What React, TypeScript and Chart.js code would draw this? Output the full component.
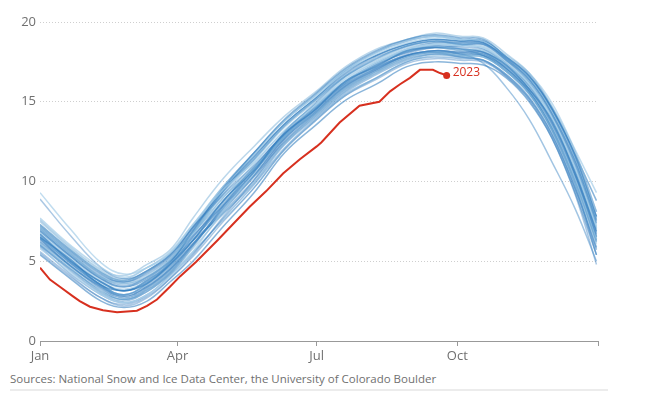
import React, { useEffect, useRef } from "react";
import { Chart, registerables } from "chart.js";

Chart.register(...registerables);

// Day of year (0 = 1 Jan) at which each past-season value is read
const SAMPLE_DAYS = [0, 20, 40, 55, 70, 85, 100, 120, 140, 160, 180, 200, 220, 240, 258, 275, 290, 305, 320, 335, 350, 364];

// Past seasons, sea ice extent (million sq km)
const past01 = [6.5, 5.1, 3.5, 3.15, 3.6, 4.8, 6.3, 8.8, 10.7, 13.0, 14.5, 16.3, 17.2, 18.2, 18.4, 18.3, 18.1, 17.3, 15.8, 13.8, 10.5, 6.9];
const past02 = [7.1, 5.5, 4.0, 3.6, 4.1, 5.1, 6.8, 9.0, 10.9, 12.8, 14.3, 15.9, 16.9, 17.8, 18.1, 17.9, 17.8, 16.9, 15.5, 13.3, 10.0, 6.3];
const past03 = [6.0, 4.5, 3.2, 2.6, 3.2, 4.3, 6.0, 8.4, 10.6, 13.1, 14.9, 16.6, 17.7, 18.5, 18.8, 18.6, 18.6, 17.6, 16.4, 14.2, 11.1, 7.4];
const past04 = [7.7, 6.0, 4.6, 4.0, 4.6, 5.6, 7.3, 9.5, 11.2, 13.2, 14.8, 16.4, 17.5, 18.3, 18.6, 18.5, 18.4, 17.4, 16.1, 13.9, 10.9, 7.1];
const past05 = [5.5, 4.0, 2.7, 2.2, 2.7, 3.9, 5.4, 7.8, 10.1, 12.6, 14.3, 16.0, 17.0, 17.9, 18.2, 18.1, 18.1, 17.2, 15.8, 13.6, 10.4, 6.6];
const past06 = [6.7, 5.0, 3.7, 3.15, 3.8, 4.9, 6.9, 9.6, 11.8, 13.9, 15.5, 17.1, 18.2, 18.9, 19.2, 19.0, 18.9, 17.8, 16.6, 14.5, 11.6, 7.8];
const past07 = [6.1, 4.6, 3.1, 2.6, 3.2, 4.3, 5.8, 8.0, 10.0, 12.4, 14.1, 15.7, 16.8, 17.7, 18.0, 17.9, 17.8, 16.9, 15.5, 13.2, 9.9, 6.1];
const past08 = [7.1, 5.5, 4.1, 3.7, 4.2, 5.2, 7.0, 9.4, 11.4, 13.5, 15.1, 16.7, 17.8, 18.5, 18.8, 18.7, 18.6, 17.6, 16.3, 14.2, 11.2, 7.5];
const past09 = [9.3, 7.0, 4.9, 4.2, 4.6, 5.5, 7.3, 9.7, 11.7, 13.8, 15.3, 16.9, 18.0, 18.7, 19.0, 18.9, 18.8, 17.8, 16.5, 14.4, 11.5, 7.7];
const past10 = [8.9, 6.6, 4.6, 3.9, 4.4, 5.4, 7.1, 9.2, 11.0, 13.0, 14.6, 16.2, 17.3, 18.1, 18.5, 18.4, 18.3, 17.4, 16.0, 13.7, 10.6, 6.8];
const past11 = [5.4, 3.9, 2.5, 2.1, 2.5, 3.7, 5.0, 7.2, 9.3, 11.8, 13.5, 15.1, 16.1, 17.2, 17.5, 17.4, 17.3, 16.5, 15.0, 12.7, 9.3, 5.4];
const past12 = [7.6, 5.9, 4.5, 4.1, 4.8, 5.7, 7.7, 10.2, 12.2, 14.1, 15.6, 17.2, 18.3, 18.9, 19.3, 19.1, 19.0, 18.0, 16.8, 14.7, 11.9, 8.1];
const past13 = [6.4, 4.9, 3.5, 2.9, 3.6, 4.7, 6.3, 8.6, 10.6, 12.9, 14.5, 16.1, 17.1, 17.9, 18.2, 18.0, 17.4, 15.9, 13.9, 11.2, 8.3, 5.0];
const past14 = [5.8, 4.3, 2.9, 2.4, 2.9, 4.0, 5.6, 8.2, 10.5, 13.0, 14.7, 16.3, 17.4, 18.2, 18.5, 18.3, 18.2, 17.2, 15.8, 13.5, 10.2, 6.4];
const past15 = [6.9, 5.3, 3.9, 3.4, 4.0, 5.0, 6.6, 8.5, 10.4, 12.7, 14.4, 16.0, 17.1, 18.0, 18.4, 18.5, 18.6, 17.8, 16.7, 14.6, 11.7, 8.1];
const past16 = [6.4, 4.7, 3.4, 2.8, 3.4, 4.5, 6.1, 8.3, 10.4, 12.7, 14.3, 15.9, 17.0, 17.9, 18.2, 18.1, 18.0, 17.1, 15.7, 13.4, 10.3, 6.5];
const past17 = [7.3, 5.7, 4.3, 3.8, 4.4, 5.4, 6.8, 8.8, 10.8, 12.9, 14.6, 16.2, 17.3, 18.1, 18.4, 18.2, 18.2, 17.3, 16.0, 13.8, 10.7, 7.0];
const past18 = [5.9, 4.2, 2.9, 2.4, 2.9, 4.1, 5.5, 7.7, 9.8, 12.1, 13.9, 15.5, 16.5, 17.5, 17.8, 17.7, 17.6, 16.7, 15.3, 13.0, 9.6, 5.9];
const past19 = [6.9, 5.2, 3.8, 3.4, 4.0, 5.0, 6.7, 9.0, 11.1, 13.2, 14.8, 16.5, 17.5, 18.3, 18.6, 18.5, 18.4, 17.4, 16.1, 14.0, 10.9, 7.1];
const past20 = [6.6, 5.0, 3.7, 3.15, 3.7, 4.8, 6.5, 8.8, 10.9, 13.0, 14.7, 16.3, 17.4, 18.3, 18.7, 18.7, 18.7, 17.7, 16.5, 14.4, 11.4, 7.7];
const past21 = [6.2, 4.7, 3.3, 2.7, 3.3, 4.4, 6.0, 8.2, 10.3, 12.5, 14.2, 15.8, 16.9, 17.8, 18.1, 18.0, 17.9, 17.0, 15.6, 13.3, 10.1, 6.3];
const past22 = [7.0, 5.4, 4.0, 3.6, 4.0, 5.1, 6.9, 9.2, 11.3, 13.4, 15.0, 16.6, 17.6, 18.4, 18.7, 18.6, 18.5, 17.5, 16.2, 14.1, 11.0, 7.3];
const past23 = [6.5, 4.9, 3.5, 2.9, 3.5, 4.6, 6.3, 8.5, 10.6, 12.8, 14.5, 16.1, 17.2, 17.9, 18.1, 17.8, 17.6, 16.7, 15.2, 12.9, 9.6, 5.8];
const past24 = [6.8, 5.1, 3.7, 3.25, 3.8, 4.9, 6.7, 9.3, 11.4, 13.5, 15.1, 16.6, 17.7, 18.5, 18.8, 18.6, 18.3, 17.3, 15.9, 13.7, 10.6, 6.8];
const past25 = [5.6, 4.1, 2.7, 2.3, 2.8, 3.9, 5.3, 7.5, 9.6, 12.0, 13.8, 15.4, 16.4, 17.4, 17.7, 17.6, 17.5, 16.6, 15.2, 12.9, 9.5, 5.7];
const past26 = [7.2, 5.6, 4.2, 3.7, 4.3, 5.3, 7.1, 9.5, 11.6, 13.6, 15.2, 16.8, 17.9, 18.6, 18.9, 18.8, 18.7, 17.7, 16.4, 14.3, 11.3, 7.6];
const past27 = [7.5, 5.8, 4.4, 3.9, 4.6, 5.5, 7.2, 9.1, 10.7, 12.8, 14.4, 16.0, 17.1, 17.9, 18.2, 18.0, 18.0, 17.1, 15.7, 13.5, 10.3, 6.5];
const past28 = [6.0, 4.4, 3.0, 2.5, 3.1, 4.2, 5.9, 8.5, 10.8, 13.0, 14.7, 16.3, 17.4, 18.2, 18.5, 18.3, 17.9, 16.9, 15.5, 13.2, 9.9, 6.2];
const past29 = [6.6, 5.0, 3.6, 3.15, 3.7, 4.8, 6.4, 8.7, 10.8, 12.9, 14.6, 16.2, 17.3, 18.2, 18.6, 18.6, 18.7, 17.9, 16.8, 14.9, 12.0, 9.3];
const past30 = [6.3, 4.8, 3.4, 2.8, 3.4, 4.5, 6.1, 8.1, 10.1, 12.4, 14.1, 15.7, 16.8, 17.7, 18.0, 17.8, 17.6, 16.6, 15.1, 12.7, 9.2, 4.8];
const past31 = [6.9, 5.3, 3.9, 3.4, 3.9, 5.0, 6.8, 9.4, 11.5, 13.6, 15.2, 16.9, 17.9, 18.6, 18.9, 18.8, 18.8, 17.8, 16.6, 14.6, 11.7, 8.8];
const past32 = [6.1, 4.5, 3.1, 2.6, 3.1, 4.2, 5.6, 7.6, 9.6, 12.0, 13.8, 15.4, 16.5, 17.5, 17.9, 17.8, 17.8, 16.9, 15.5, 13.3, 10.1, 6.4];
const past33 = [7.0, 5.4, 4.0, 3.5, 4.0, 5.0, 6.3, 8.0, 9.9, 12.3, 14.0, 15.6, 16.7, 17.6, 18.0, 17.9, 17.9, 17.1, 15.8, 13.6, 10.5, 6.7];
const past34 = [6.5, 4.9, 3.5, 2.9, 3.6, 4.7, 6.6, 9.4, 11.7, 13.8, 15.4, 17.0, 18.1, 18.8, 19.1, 18.9, 18.7, 17.6, 16.2, 14.0, 10.8, 7.2];
const past35 = [6.7, 5.1, 3.7, 3.15, 3.7, 4.8, 6.5, 8.8, 10.9, 13.0, 14.7, 16.3, 17.3, 18.1, 18.4, 18.2, 18.1, 17.1, 15.6, 13.2, 9.8, 5.4];
const past36 = [7.3, 5.7, 4.3, 3.8, 4.4, 5.4, 7.2, 9.7, 11.8, 13.8, 15.4, 17.0, 18.1, 18.8, 19.1, 18.9, 18.8, 17.8, 16.5, 14.5, 11.5, 7.8];

const PAST_SEASONS = [
  past01, past02, past03, past04, past05, past06, past07, past08, past09, past10, past11, past12,
  past13, past14, past15, past16, past17, past18, past19, past20, past21, past22, past23, past24,
  past25, past26, past27, past28, past29, past30, past31, past32, past33, past34, past35, past36,
];

// 2023 season
const DAYS_2023 = [0, 6.5, 13, 21.6, 26, 32.7, 41.2, 50.4, 63.4, 70, 76.5, 85, 91.6, 102, 116, 126, 137, 148, 159, 170, 181, 184, 196, 209, 222, 229, 235.5, 242, 248.5, 257, 261.6, 266];
const EXTENT_2023 = [4.6, 3.85, 3.4, 2.8, 2.5, 2.15, 1.93, 1.8, 1.9, 2.2, 2.6, 3.4, 4.05, 4.95, 6.3, 7.3, 8.4, 9.4, 10.5, 11.4, 12.2, 12.45, 13.7, 14.75, 15.0, 15.65, 16.1, 16.5, 17.0, 17.0, 16.8, 16.65];
const LABEL_2023 = "2023";

// Axis ticks
const X_TICK_DAYS = [0, 90, 181, 273, 365];
const X_TICK_LABELS = ["Jan", "Apr", "Jul", "Oct", ""];
const Y_TICKS = [0, 5, 10, 15, 20];

const SOURCE = "Sources: National Snow and Ice Data Center, the University of Colorado Boulder";

const RED = "#d7301f";
const TEXT = "#707070";
const FONT = "'Open Sans', 'Noto Sans', sans-serif";
const BLUES = [
  "rgba(41,121,188,0.55)",
  "rgba(120,175,215,0.5)",
  "rgba(70,140,200,0.5)",
  "rgba(165,205,232,0.7)",
  "rgba(55,125,190,0.42)",
];

const labelPlugin = {
  id: "label2023",
  afterDatasetsDraw(chart: any) {
    const meta = chart.getDatasetMeta(0);
    const pt = meta.data[meta.data.length - 1];
    if (!pt) return;
    const ctx = chart.ctx;
    ctx.save();
    ctx.font = `12px ${FONT}`;
    ctx.fillStyle = RED;
    ctx.textAlign = "left";
    ctx.textBaseline = "middle";
    ctx.fillText(LABEL_2023, pt.x + 6, pt.y - 3);
    ctx.restore();
  },
};

export default function App() {
  const ref = useRef<HTMLCanvasElement>(null);

  useEffect(() => {
    if (!ref.current) return;
    const red = {
      label: LABEL_2023,
      data: DAYS_2023.map((d, i) => ({ x: d, y: EXTENT_2023[i] })),
      borderColor: RED,
      backgroundColor: RED,
      borderWidth: 2,
      tension: 0,
      pointRadius: (c: any) => (c.dataIndex === DAYS_2023.length - 1 ? 3.5 : 0),
      pointBorderWidth: 0,
    };
    const blues = PAST_SEASONS.map((vals, k) => ({
      label: `past${k + 1}`,
      data: SAMPLE_DAYS.map((d, i) => ({ x: d, y: vals[i] })),
      borderColor: BLUES[k % BLUES.length],
      borderWidth: 1.5,
      tension: 0.4,
      pointRadius: 0,
    }));

    const chart = new Chart(ref.current, {
      type: "line",
      data: { datasets: [red, ...blues] as any },
      options: {
        animation: false,
        responsive: false,
        maintainAspectRatio: false,
        layout: { padding: { left: 0, right: 47, top: 22, bottom: 0 } },
        plugins: { legend: { display: false }, tooltip: { enabled: false } },
        scales: {
          x: {
            type: "linear",
            min: 0,
            max: 365,
            afterBuildTicks: (s: any) => {
              s.ticks = X_TICK_DAYS.map((v) => ({ value: v }));
            },
            afterFit: (s: any) => {
              s.height = 24;
            },
            border: { display: true, color: "#999999", width: 1 },
            grid: {
              display: true,
              drawOnChartArea: false,
              drawTicks: true,
              tickLength: 5,
              color: "#999999",
            },
            ticks: {
              autoSkip: false,
              maxRotation: 0,
              padding: 2,
              color: TEXT,
              font: { family: FONT, size: 13 },
              callback: (v: any) => {
                const i = X_TICK_DAYS.indexOf(Number(v));
                return i >= 0 ? X_TICK_LABELS[i] : "";
              },
            },
          },
          y: {
            min: 0,
            max: 20,
            afterBuildTicks: (s: any) => {
              s.ticks = Y_TICKS.map((v) => ({ value: v }));
            },
            afterFit: (s: any) => {
              s.width = 40;
            },
            border: { display: false, dash: [1, 2] },
            grid: {
              drawTicks: false,
              color: (c: any) => (c.tick && c.tick.value === 0 ? "rgba(0,0,0,0)" : "#cfcfcf"),
            },
            ticks: {
              padding: 4,
              color: TEXT,
              font: { family: FONT, size: 13 },
            },
          },
        },
      },
      plugins: [labelPlugin],
    });
    return () => chart.destroy();
  }, []);

  return (
    <div style={{ position: "fixed", left: 0, top: 0, width: 645, height: 393, background: "#fff" }}>
      <div style={{ position: "absolute", left: 0, top: 0, width: 645, height: 365 }}>
        <canvas ref={ref} width={645} height={365} style={{ display: "block" }} />
      </div>
      <div
        style={{
          position: "absolute",
          left: 10,
          top: 370,
          fontFamily: FONT,
          fontSize: 11.5,
          color: TEXT,
          whiteSpace: "nowrap",
          lineHeight: "18px",
        }}
      >
        {SOURCE}
      </div>
      <div style={{ position: "absolute", left: 10, top: 389, width: 598, height: 2, background: "#ececec" }} />
    </div>
  );
}
